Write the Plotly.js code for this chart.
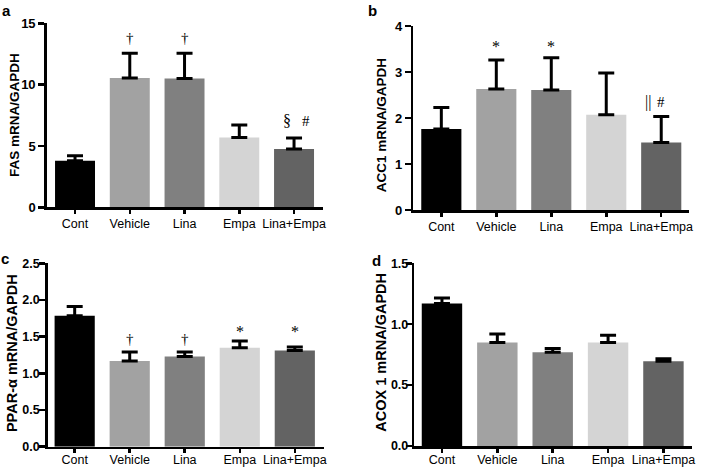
<!DOCTYPE html>
<html>
<head>
<meta charset="utf-8">
<script src="https://cdn.plot.ly/plotly-3.0.1.min.js"></script>
<style>
html,body{margin:0;padding:0;background:#fff;}
#chart{width:710px;height:469px;}
</style>
</head>
<body>
<div id="chart"></div>
<script>
// ---- data ----
var categories = ['Cont', 'Vehicle', 'Lina', 'Empa', 'Lina+Empa'];

var fasMean = [3.8, 10.55, 10.5, 5.7, 4.75];
var fasErr  = [0.4, 2.0, 2.05, 1.0, 0.9];

var acc1Mean = [1.76, 2.63, 2.61, 2.07, 1.47];
var acc1Err  = [0.47, 0.63, 0.70, 0.91, 0.56];

var pparMean = [1.785, 1.17, 1.23, 1.35, 1.31];
var pparErr  = [0.125, 0.12, 0.06, 0.09, 0.05];

var acoxMean = [1.17, 0.85, 0.77, 0.85, 0.695];
var acoxErr  = [0.046, 0.07, 0.03, 0.06, 0.022];

var noLower = [0, 0, 0, 0, 0];

var yTitles = ['FAS mRNA/GAPDH', 'ACC1 mRNA/GAPDH', 'PPAR-\u03b1 mRNA/GAPDH', 'ACOX 1 mRNA/GAPDH'];
var panelLetters = ['a', 'b', 'c', 'd'];

// ---- style ----
var barColors = ['#000000', '#a2a2a2', '#808080', '#d4d4d4', '#636363'];
var sans = '"Liberation Sans", Arial, sans-serif';
var serif = '"Liberation Serif", "Times New Roman", serif';

function barTrace(mean, err, xa, ya) {
  return {
    type: 'bar',
    x: categories,
    y: mean,
    xaxis: xa,
    yaxis: ya,
    marker: {color: barColors, line: {width: 0}},
    error_y: {
      type: 'data', symmetric: false, array: err, arrayminus: noLower,
      color: '#000', thickness: 3, width: 8
    },
    hoverinfo: 'x+y',
    showlegend: false
  };
}

var data = [
  barTrace(fasMean, fasErr, 'x', 'y'),
  barTrace(acc1Mean, acc1Err, 'x2', 'y2'),
  barTrace(pparMean, pparErr, 'x3', 'y3'),
  barTrace(acoxMean, acoxErr, 'x4', 'y4')
];

function xAx(dom, rng, anchor, standoff) {
  return {
    domain: dom, anchor: anchor, type: 'category', range: rng,
    showline: true, linecolor: '#000', linewidth: 2.5,
    ticks: 'outside', ticklen: 4, tickwidth: 2.5, tickcolor: '#000',
    ticklabelstandoff: standoff,
    showgrid: false, zeroline: false, fixedrange: true,
    tickfont: {family: sans, size: 12.5, color: '#000'}
  };
}
function yAx(dom, rng, dtick, fmt, anchor, fsize, standoff) {
  return {
    domain: dom, anchor: anchor, range: rng, dtick: dtick, tick0: 0,
    tickformat: fmt,
    showline: true, linecolor: '#000', linewidth: 2.5,
    ticks: 'outside', ticklen: 6, tickwidth: 2.5, tickcolor: '#000',
    ticklabelstandoff: standoff,
    showgrid: false, zeroline: false, fixedrange: true,
    tickfont: {family: sans, size: fsize, color: '#000', weight: 'bold'}
  };
}

function mark(txt, x, y, xr, yr, size) {
  return {text: txt, x: x, y: y, xref: xr, yref: yr, showarrow: false,
          font: {family: serif, size: size || 15, color: '#000'}, xanchor: 'center', yanchor: 'middle'};
}
function letter(txt, x, y) {
  return {text: '<b>' + txt + '</b>', x: x, y: y, xref: 'paper', yref: 'paper', showarrow: false,
          font: {family: sans, size: 15, color: '#000'}, xanchor: 'left', yanchor: 'top'};
}
function ytitle(txt, x, y, size) {
  return {text: '<b>' + txt + '</b>', x: x, y: y, xref: 'paper', yref: 'paper', showarrow: false,
          textangle: -90, font: {family: sans, size: size, color: '#000'},
          xanchor: 'center', yanchor: 'middle'};
}

var layout = {
  width: 710, height: 469,
  margin: {l: 0, r: 0, t: 0, b: 0},
  paper_bgcolor: '#fff', plot_bgcolor: '#fff',
  bargap: 0.27,
  font: {family: sans, color: '#000'},
  xaxis: xAx([0.0658, 0.4554], [-0.517, 4.535], 'y', -1),
  yaxis: yAx([0.558, 0.9503], [0, 15], 5, '', 'x', 13, 0),
  xaxis2: xAx([0.5821, 0.9708], [-0.51, 4.51], 'y2', -1),
  yaxis2: yAx([0.5522, 0.9446], [0, 4], 1, '', 'x2', 13, 0),
  xaxis3: xAx([0.0672, 0.4563], [-0.49, 4.53], 'y3', -4),
  yaxis3: yAx([0.0475, 0.4386], [0, 2.5], 0.5, '.1f', 'x3', 12.5, -3),
  xaxis4: xAx([0.5835, 0.9742], [-0.5, 4.51], 'y4', -4),
  yaxis4: yAx([0.049, 0.4386], [0, 1.5], 0.5, '.1f', 'x4', 12.5, -5),
  annotations: [
    letter(panelLetters[0], 0.0, 1.0),
    letter(panelLetters[1], 0.515, 1.0),
    letter(panelLetters[2], -0.002, 0.471),
    letter(panelLetters[3], 0.521, 0.466),
    ytitle(yTitles[0], 0.0211, 0.7548, 13.5),
    ytitle(yTitles[1], 0.5376, 0.7324, 13.5),
    ytitle(yTitles[2], 0.0180, 0.2467, 14.5),
    ytitle(yTitles[3], 0.5355, 0.2484, 14.5),
    // panel a
    mark('\u2020', 1, 13.8, 'x', 'y'),
    mark('\u2020', 2, 13.8, 'x', 'y'),
    mark('\u00a7', 3.87, 7.05, 'x', 'y', 16),
    mark('#', 4.22, 7.0, 'x', 'y'),
    // panel b
    mark('*', 1, 3.55, 'x2', 'y2', 16),
    mark('*', 2, 3.55, 'x2', 'y2', 16),
    mark('||', 3.76, 2.35, 'x2', 'y2', 16),
    mark('#', 4, 2.35, 'x2', 'y2'),
    // panel c
    mark('\u2020', 1, 1.47, 'x3', 'y3'),
    mark('\u2020', 2, 1.47, 'x3', 'y3'),
    mark('*', 3, 1.57, 'x3', 'y3', 16),
    mark('*', 4, 1.57, 'x3', 'y3', 16)
  ]
};

Plotly.newPlot('chart', data, layout, {displayModeBar: false, staticPlot: true});
</script>
</body>
</html>
